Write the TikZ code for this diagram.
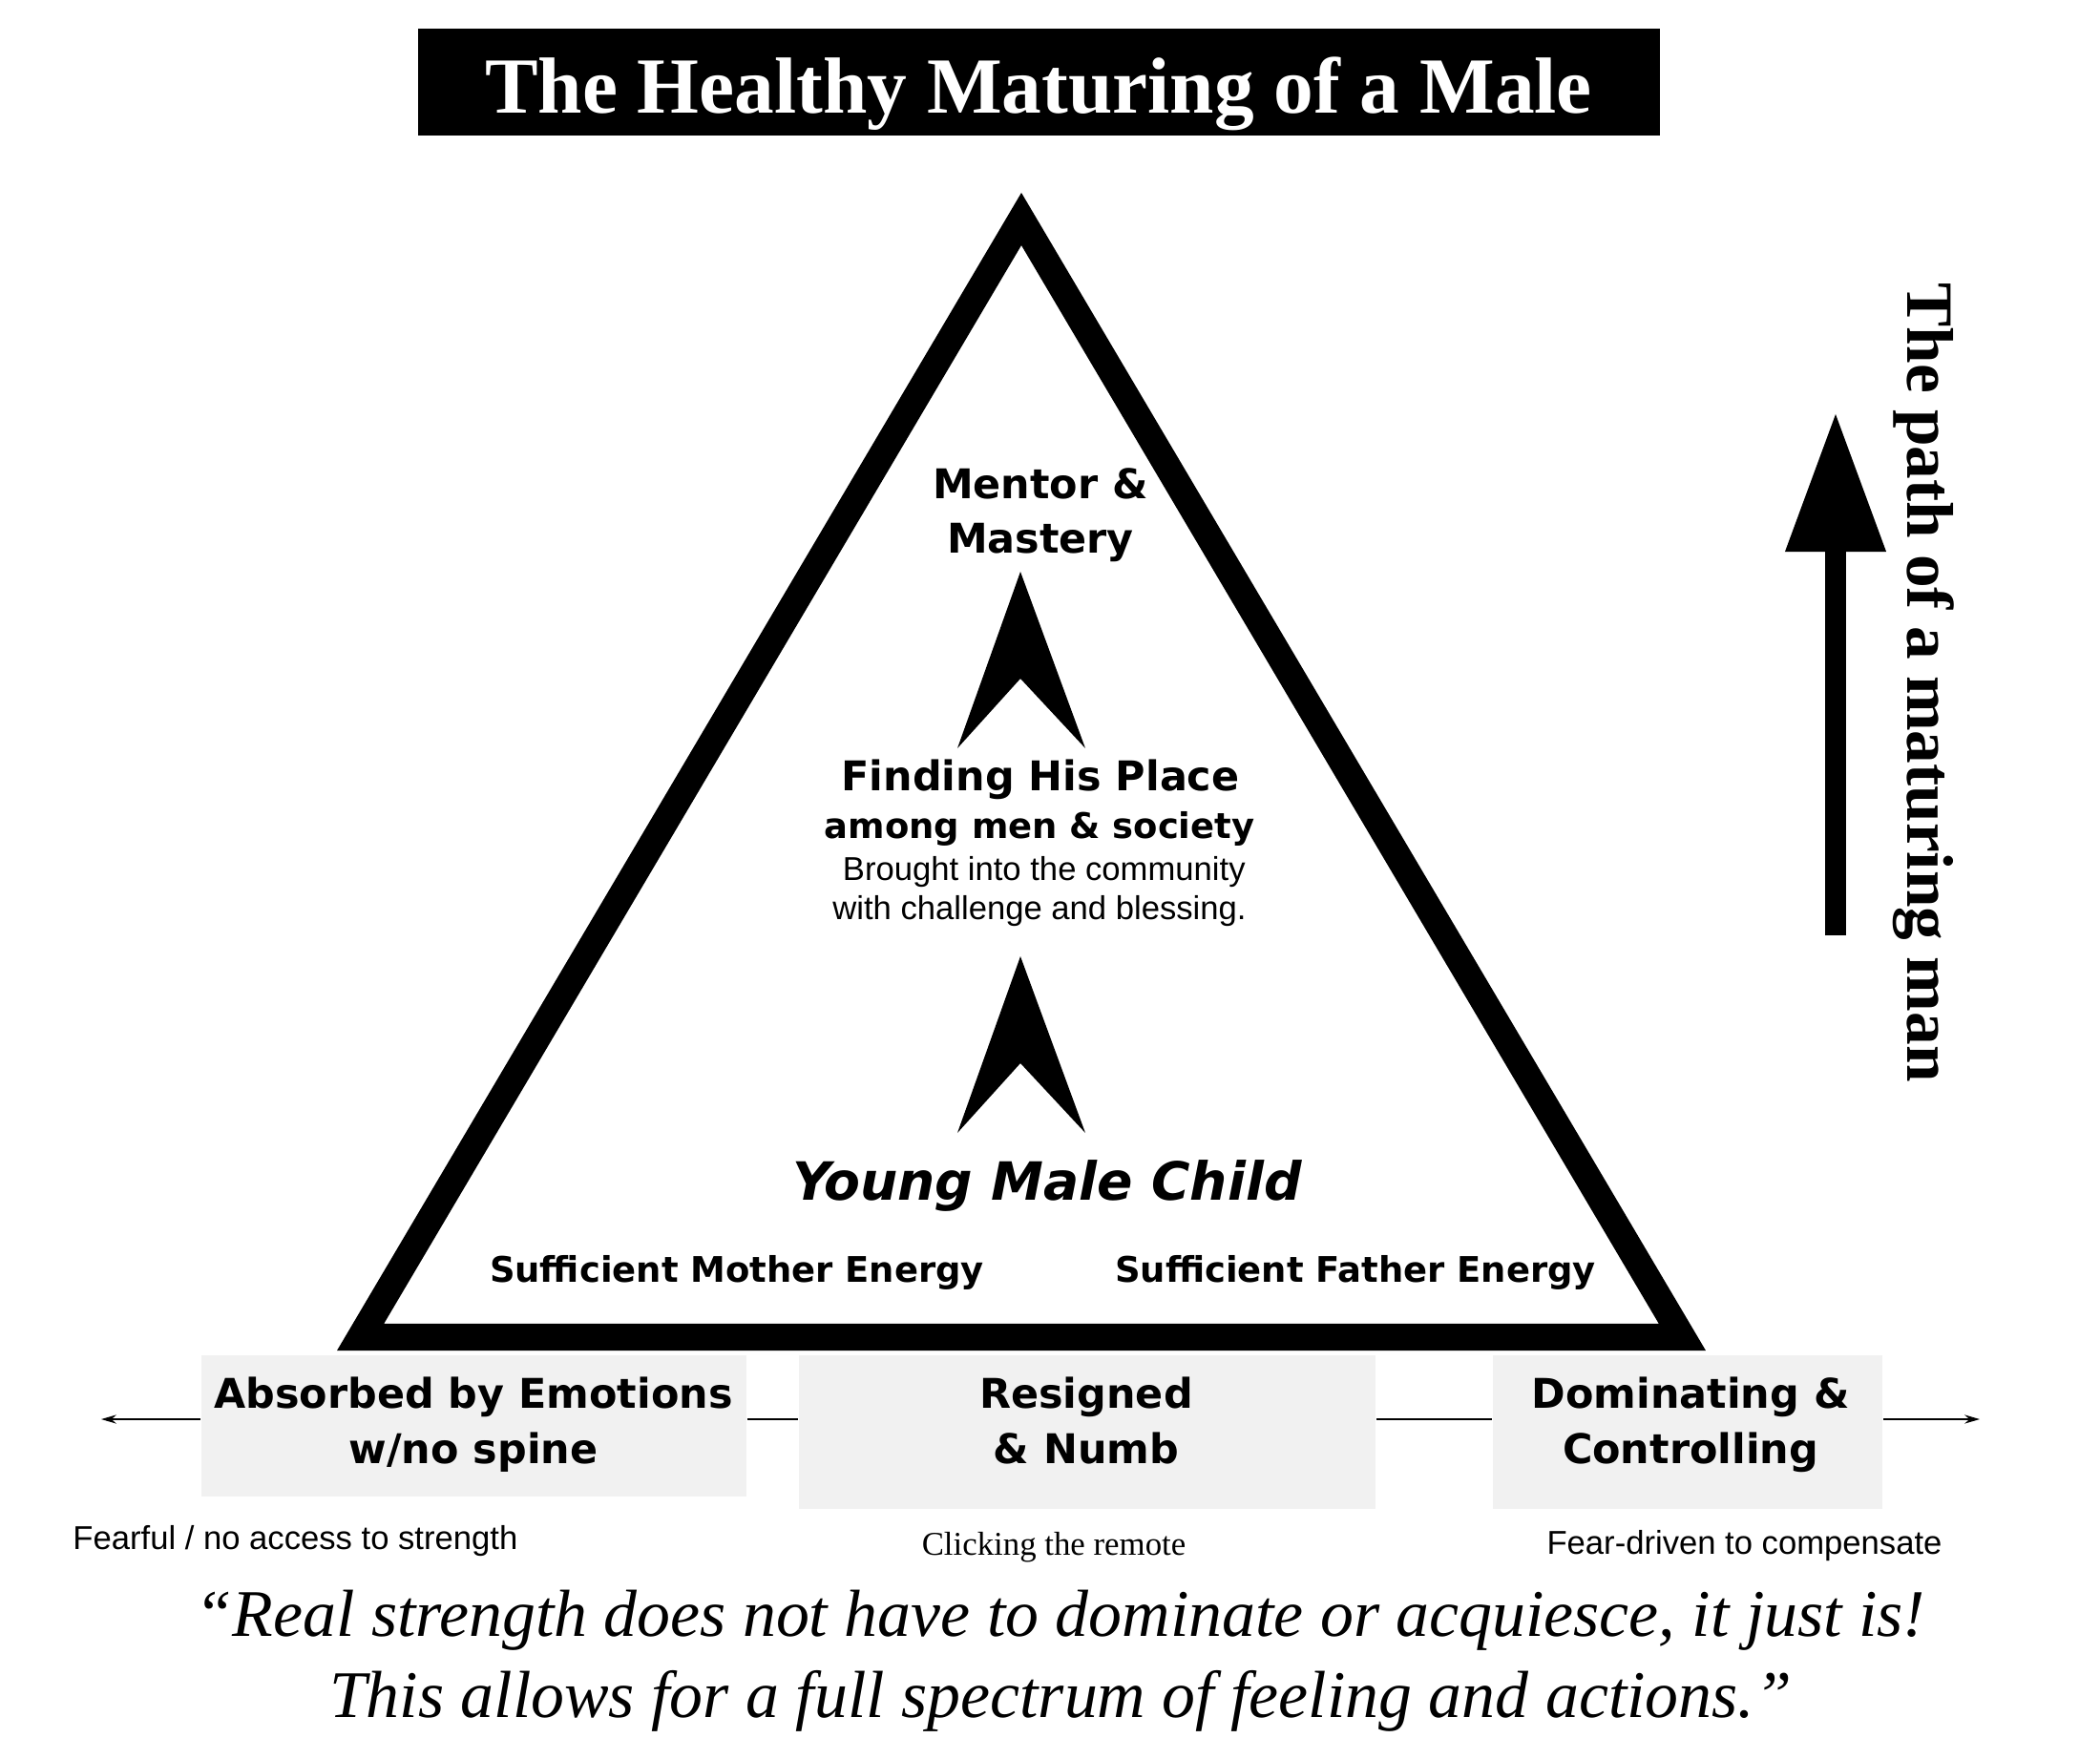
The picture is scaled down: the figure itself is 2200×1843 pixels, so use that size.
\documentclass[tikz,border=0pt]{standalone}
\usepackage{fontspec}
\setmainfont{Liberation Serif}
\newfontfamily\tahomafont{DejaVu Sans}
\newfontfamily\arialfont{Liberation Sans}
\usetikzlibrary{arrows.meta}
\definecolor{panelgray}{RGB}{241,241,241}

\begin{document}
\begin{tikzpicture}[x=0.01cm,y=-0.01cm,
  stage/.style={anchor=base,align=center,font=\tahomafont\bfseries\fontsize{12.2pt}{16.4pt}\selectfont},
  small stage/.style={stage,font=\tahomafont\bfseries\fontsize{10.5pt}{13pt}\selectfont},
  note/.style={anchor=base,align=center,font=\arialfont\fontsize{9.85pt}{11.4pt}\selectfont},
  panel/.style={fill=panelgray,inner sep=0pt},
  spine/.style={line width=0.5pt}]
\useasboundingbox (0,0) rectangle (2200,1843);

% Title bar
\node[fill=black,inner sep=0pt,minimum width=13.01cm,minimum height=1.12cm] (titlebar) at (1088.5,86) {};
\node[anchor=base,text=white,font=\bfseries\fontsize{23.7pt}{28pt}\selectfont] (title) at (1088,119) {The Healthy Maturing of a Male};

% Triangle
\draw[line width=7.97pt,line join=miter] (377.6,1401) -- (1070,229.5) -- (1762.4,1401) -- cycle;

% Stages inside (base = last line)
\node[stage] (mentor) at (1090,580) {Mentor \&\\Mastery};
\node[stage] (place) at (1090,828) {Finding His Place};
\node[small stage] (society) at (1089,878) {among men \& society};
\node[note] (community) at (1089,963) {\ Brought into the community\\with challenge and blessing.};
\node[stage,font=\tahomafont\bfseries\itshape\fontsize{15.7pt}{19pt}\selectfont] (child) at (1097,1257) {Young Male Child};
\node[small stage] (mother) at (772,1343) {Sufficient Mother Energy};
\node[small stage] (father) at (1420,1343) {Sufficient Father Energy};

% Upward chevrons
\foreach \tip in {599,1002}
  \fill (1069,\tip) -- ++(68,185) -- ++(-68,-73) -- ++(-66,73) -- cycle;

% Bottom panels
\node[panel,minimum width=5.71cm,minimum height=1.48cm] (absorbed) at (496.5,1494) {};
\node[panel,minimum width=6.04cm,minimum height=1.61cm] (resigned) at (1139,1500.5) {};
\node[panel,minimum width=4.08cm,minimum height=1.61cm] (dominating) at (1768,1500.5) {};
\node[stage] (absorbedtext) at (496,1533) {Absorbed by Emotions\\w/no spine};
\node[stage] (resignedtext) at (1138,1533) {Resigned\\\& Numb};
\node[stage] (dominatingtext) at (1771,1533) {Dominating \&\\Controlling};

% Spectrum line
\coordinate (spineline) at (0,1487);
\coordinate (leftend) at (106,1487);
\coordinate (rightend) at (2074,1487);
\draw[spine,-{Stealth[length=4.5pt,width=2.6pt]}] (absorbed.west |- spineline) -- (leftend);
\draw[spine] (absorbed.east |- spineline) -- (resigned.west |- spineline);
\draw[spine] (resigned.east |- spineline) -- (dominating.west |- spineline);
\draw[spine,-{Stealth[length=4.5pt,width=2.6pt]}] (dominating.east |- spineline) -- (rightend);

% Captions
\node[note,anchor=base west] (fearful) at (64,1623) {Fearful / no access to strength};
\node[anchor=base,font=\fontsize{9.9pt}{12pt}\selectfont] (remote) at (1104,1629) {Clicking the remote};
\node[note] (compensate) at (1827.5,1628) {Fear-driven to compensate};

% Quote
\node[anchor=base,align=center,font=\itshape\fontsize{19.85pt}{23.9pt}\selectfont] (quote) at (1111,1799)
  {“Real strength does not have to dominate or acquiesce, it just is!\\This allows for a full spectrum of feeling and actions.”};

% Path arrow
\coordinate (pathfoot) at (1923,980);
\coordinate (pathtip) at (1923,434);
\draw[line width=6.26pt,-{Triangle[width=30.2pt,length=41pt,line width=0pt]}] (pathfoot) -- (pathtip);
\node[anchor=base,rotate=-90,font=\bfseries\fontsize{19.7pt}{24pt}\selectfont] (pathlabel) at (1998,715) {The path of a maturing man};

\end{tikzpicture}
\end{document}
